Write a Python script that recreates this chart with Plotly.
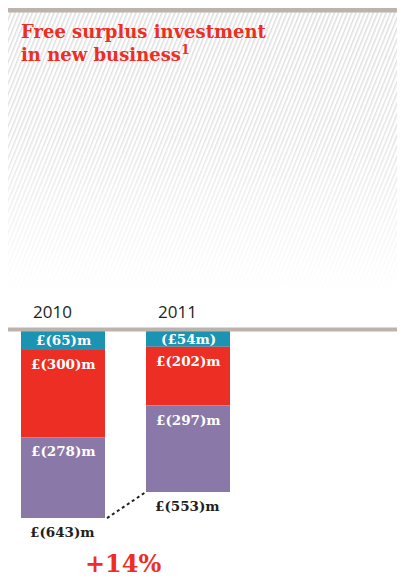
import plotly.graph_objects as go
import base64

years = ["2010", "2011"]
seg_names = ["Segment A", "Segment B", "Segment C"]
seg_values = {
    "Segment A": [-65, -54],
    "Segment B": [-300, -202],
    "Segment C": [-278, -297],
}
seg_labels = {
    "Segment A": ["£(65)m", "(£54m)"],
    "Segment B": ["£(300)m", "£(202)m"],
    "Segment C": ["£(278)m", "£(297)m"],
}
totals = [-643, -553]
total_labels = ["£(643)m", "£(553)m"]
change_label = "+14%"

seg_colors = {"Segment A": "#1b93b3", "Segment B": "#ec2e24", "Segment C": "#8a79a8"}

# page has an 8px body margin; figure coordinates are page pixels minus 8
OFF = 8
W, H = 405 - OFF, 580 - OFF
def py(p):  # page y pixel -> paper fraction
    return 1 - (p - OFF) / H
def px(p):
    return (p - OFF) / W

px_per_unit = 0.291
base_px = 331 - OFF
y_top = base_px / px_per_unit
y_bot = (base_px - H) / px_per_unit
ppx = 125.0
c0 = 63 - OFF
x_left = -c0 / ppx
x_right = (W - c0) / ppx
bar_w = 84 / ppx

fig = go.Figure()
for name in seg_names:
    fig.add_trace(go.Bar(x=years, y=seg_values[name], name=name, marker_color=seg_colors[name],
                         marker_line_width=0, width=bar_w, showlegend=False, hoverinfo="skip"))

serif = "DejaVu Serif, serif"
cum = [0.0 for _ in years]
for k, name in enumerate(seg_names):
    for i, yr in enumerate(years):
        if k == 0:
            yy = cum[i] + seg_values[name][i] / 2
            ys = 0
        else:
            yy = cum[i]
            ys = -14
        fig.add_annotation(x=i, y=yy, yshift=ys, text="<b>%s</b>" % seg_labels[name][i],
                           showarrow=False, yanchor="middle", xanchor="center",
                           font=dict(family=serif, size=13.5, color="white"))
        cum[i] += seg_values[name][i]

for i, yr in enumerate(years):
    fig.add_annotation(x=i, y=totals[i], yshift=-14, text="<b>%s</b>" % total_labels[i], showarrow=False,
                       yanchor="middle", xanchor="center", xshift=-1,
                       font=dict(family=serif, size=13.5, color="#231f20"))
    fig.add_annotation(x=i, y=py(311), yref="paper", xshift=-11, text=yr, showarrow=False,
                       yanchor="middle", xanchor="center",
                       font=dict(family="Open Sans, sans-serif", size=17, color="#231f20"))

fig.add_shape(type="line", x0=0 + bar_w / 2 + 2 / ppx, y0=totals[0], x1=1 - bar_w / 2, y1=totals[1],
              line=dict(color="#231f20", width=2, dash="dot"))

fig.add_annotation(x=0.5, y=py(563), yref="paper", xshift=-2, text="<b>%s</b>" % change_label,
                   showarrow=False, yanchor="middle", xanchor="center",
                   font=dict(family=serif, size=24, color="#ec2e24"))

svg = '''<svg xmlns="http://www.w3.org/2000/svg" width="399" height="280" viewBox="0 0 399 280">
<defs>
<pattern id="p" width="4" height="4" patternUnits="userSpaceOnUse" patternTransform="rotate(22)">
<rect x="0" y="0" width="1.5" height="4" fill="#dedede"/>
</pattern>
<linearGradient id="g" x1="0" y1="0" x2="0" y2="1">
<stop offset="0" stop-color="white" stop-opacity="1"/>
<stop offset="0.45" stop-color="white" stop-opacity="0.8"/>
<stop offset="1" stop-color="white" stop-opacity="0"/>
</linearGradient>
<mask id="m"><rect width="399" height="280" fill="url(#g)"/></mask>
</defs>
<rect width="399" height="280" fill="url(#p)" mask="url(#m)"/>
</svg>'''
src = "data:image/svg+xml;base64," + base64.b64encode(svg.encode()).decode()
fig.add_layout_image(source=src, xref="paper", yref="paper", x=px(6), y=py(12),
                     sizex=399 / W, sizey=280 / H, xanchor="left", yanchor="top",
                     sizing="stretch", layer="below")

fig.add_shape(type="rect", xref="paper", yref="paper", x0=px(6), x1=1, y0=py(12.5), y1=py(8),
              fillcolor="#bcb4ac", line_width=0)
fig.add_shape(type="rect", xref="paper", yref="paper", x0=px(6), x1=1, y0=py(331.5), y1=py(327.5),
              fillcolor="#bcb4ac", line_width=0, layer="above")

fig.add_annotation(x=px(19), y=py(43), xref="paper", yref="paper", xanchor="left", yanchor="middle",
                   align="left", showarrow=False,
                   text="<b>Free surplus investment<br>in new business<sup>1</sup></b>",
                   font=dict(family=serif, size=18, color="#ec2e24"))

fig.update_layout(
    width=W, height=H, margin=dict(l=0, r=0, t=0, b=0), barmode="relative",
    paper_bgcolor="white", plot_bgcolor="rgba(0,0,0,0)",
    xaxis=dict(range=[x_left, x_right], visible=False, type="category"),
    yaxis=dict(range=[y_bot, y_top], visible=False),
)
fig.write_html("out.html")
